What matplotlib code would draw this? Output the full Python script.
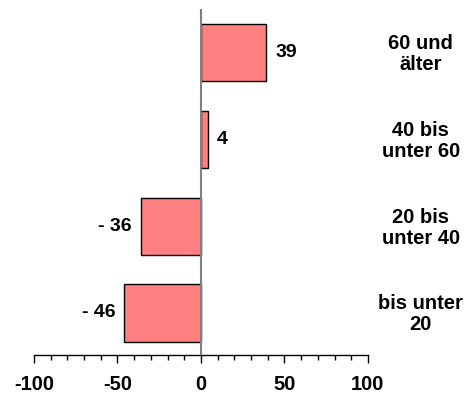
import numpy as np
import matplotlib.pyplot as plt
from matplotlib.ticker import MultipleLocator

plt.rcParams['font.family'] = ['Liberation Sans', 'DejaVu Sans']
plt.rcParams['font.weight'] = 'bold'
plt.rcParams['axes.unicode_minus'] = False

# age groups, bottom to top
groups = ['bis unter\n20', '20 bis\nunter 40', '40 bis\nunter 60', '60 und\nälter']
values = [-46, -36, 4, 39]

fig = plt.figure(figsize=(4.77, 3.96), dpi=100)
ax = fig.add_axes([0.0713, 0.1035, 0.700, 0.874])

y = np.arange(len(groups))
ax.barh(y, values, height=0.66, color='#ff8080', edgecolor='black', linewidth=1.0, zorder=2)

# zero line
ax.axvline(0, color='#808080', linewidth=1.5, zorder=3)

for yi, v in zip(y, values):
    if v >= 0:
        ax.annotate(f'{v}', (v, yi), xytext=(6.5, 0), textcoords='offset points',
                    ha='left', va='center', fontsize=14, fontweight='bold')
    else:
        ax.annotate(f'- {abs(v)}', (v, yi), xytext=(-6.5, 0), textcoords='offset points',
                    ha='right', va='center', fontsize=14, fontweight='bold')

# group names to the right of the plot
for yi, g in zip(y, groups):
    ax.annotate(g, (1.0, yi), xycoords=('axes fraction', 'data'),
                xytext=(38, -1), textcoords='offset points',
                ha='center', va='center', fontsize=14.5, fontweight='bold',
                linespacing=1.12, annotation_clip=False)

ax.set_xlim(-100, 100)
ax.set_ylim(-0.485, 3.507)
ax.set_yticks([])
for side in ['top', 'right', 'left']:
    ax.spines[side].set_visible(False)
ax.spines['bottom'].set_linewidth(1.0)

ax.xaxis.set_major_locator(MultipleLocator(50))
ax.xaxis.set_minor_locator(MultipleLocator(10))
ax.tick_params(axis='x', which='major', direction='out', length=5.5, width=1.0,
               pad=9, labelsize=14.5)
ax.tick_params(axis='x', which='minor', direction='out', length=3.6, width=1.0)

fig.savefig('out.png', dpi=100)
